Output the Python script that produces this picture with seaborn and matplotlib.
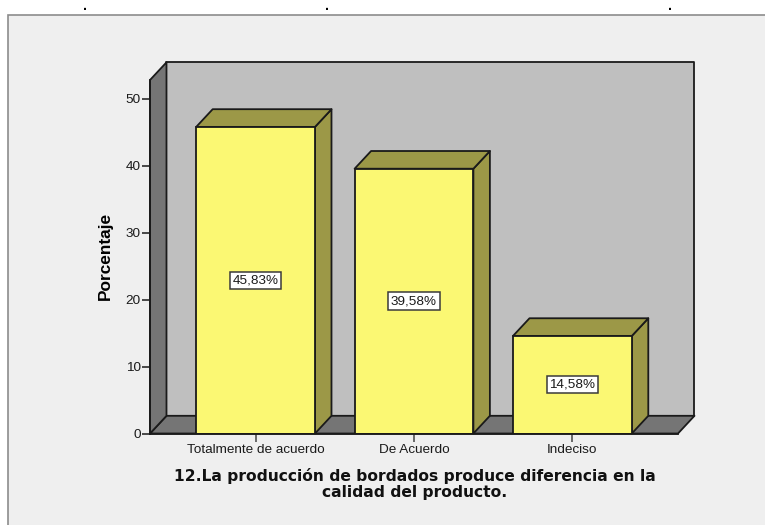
import matplotlib
matplotlib.use("Agg")
import matplotlib.pyplot as plt
from matplotlib.patches import Polygon, Rectangle
import seaborn as sns

categories = ["Totalmente de acuerdo", "De Acuerdo", "Indeciso"]
percentages = [45.83, 39.58, 14.58]
y_ticks = [0, 10, 20, 30, 40, 50]
y_label = "Porcentaje"
title_lines = "12.La producción de bordados produce diferencia en la\ncalidad del producto."

W, H = 765, 525
BAR = "#fbf873"
BAR_DARK = "#9c9847"
WALL = "#bfbfbf"
SIDE = "#757575"
PANEL = "#efefef"
INK = "#1a1a1a"
EDGE_W = 1.3

sns.set_theme(style="white", rc={"font.family": ["Liberation Sans", "DejaVu Sans"]})

fig = plt.figure(figsize=(W / 100, H / 100), dpi=100, facecolor="white")
fig.add_artist(Rectangle((8 / W, -0.05), 1, 1 - 15 / H + 0.05, transform=fig.transFigure,
                         facecolor=PANEL, edgecolor="#8c8c8c", linewidth=1.2, zorder=-1))
for px in (85, 327, 670):
    fig.text(px / W, 1 - 10 / H, ".", ha="center", va="baseline", fontsize=10,
             fontweight="bold", color="black")

# Axes span the front plane of the 3D box
left, right, bottom, top = 150, 678, 433.5, 80
ax = fig.add_axes([left / W, 1 - bottom / H, (right - left) / W, (bottom - top) / H])
ax.patch.set_visible(False)

sns.barplot(x=categories, y=percentages, width=0.75, color=BAR, saturation=1,
            edgecolor=INK, linewidth=EDGE_W, ax=ax, zorder=5)
ax.set_xlim(-2 / 3, 2 + 2 / 3)
ymax = 52.84
ax.set_ylim(0, ymax)
ax.set_xlabel("")
ax.set_ylabel("")

# Depth offset of the box, in data units
dx, dy = 16.5 / 158.5, 17.7 / 6.69
x0, x1 = ax.get_xlim()


def face(points, color, z):
    ax.add_patch(Polygon(points, closed=True, facecolor=color, edgecolor=INK,
                         linewidth=EDGE_W, clip_on=False, zorder=z, joinstyle="round"))


face([(x0 + dx, dy), (x1 + dx, dy), (x1 + dx, ymax + dy), (x0 + dx, ymax + dy)], WALL, 1)
face([(x0, 0), (x1, 0), (x1 + dx, dy), (x0 + dx, dy)], SIDE, 2)
face([(x0, 0), (x0 + dx, dy), (x0 + dx, ymax + dy), (x0, ymax)], SIDE, 2)

for i, value in enumerate(percentages):
    a, b = i - 0.375, i + 0.375
    face([(b, 0), (b + dx, dy), (b + dx, value + dy), (b, value)], BAR_DARK, 4)
    face([(a, value), (b, value), (b + dx, value + dy), (a + dx, value + dy)], BAR_DARK, 4)
    ax.text(i, value / 2, f"{value:.2f}%".replace(".", ","), ha="center", va="center",
            fontsize=9.7, color=INK, zorder=7,
            bbox=dict(boxstyle="square,pad=0.2", facecolor="white", edgecolor="#3a3a3a", linewidth=1.1))

for side in ("top", "right"):
    ax.spines[side].set_visible(False)
for side in ("left", "bottom"):
    ax.spines[side].set_color(INK)
    ax.spines[side].set_linewidth(EDGE_W)
    ax.spines[side].set_zorder(6)

ax.set_yticks(y_ticks)
ax.tick_params(axis="y", left=True, length=5.8, width=1.1, color=INK, labelsize=9.7,
               labelcolor=INK, pad=1)
ax.tick_params(axis="x", bottom=True, length=5.8, width=1.1, color="#444444", labelsize=9.7,
               labelcolor=INK, pad=1.5)

fig.text(105 / W, 1 - 256 / H, y_label, rotation=90, ha="center", va="center",
         fontsize=12.4, fontweight="bold", color="black")
fig.text(415 / W, 1 - 484 / H, title_lines, ha="center", va="center", fontsize=11.2,
         fontweight="bold", color="#111111", linespacing=1.12, family="DejaVu Sans")

fig.savefig("out.png", dpi=100)
